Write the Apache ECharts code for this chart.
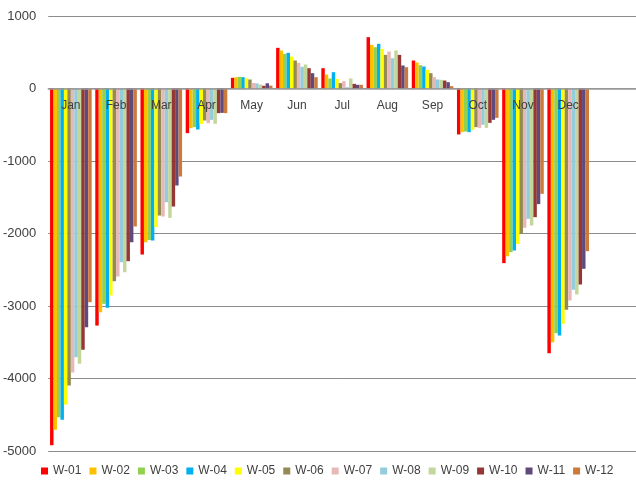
<!DOCTYPE html>
<html>
<head>
<meta charset="utf-8">
<script src="https://cdn.jsdelivr.net/npm/echarts@6/dist/echarts.min.js"></script>
<style>
html,body{margin:0;padding:0;background:#fff;}
#chart{width:636px;height:490px;}
</style>
</head>
<body>
<div id="chart"></div>
<script>
const months = ['Jan','Feb','Mar','Apr','May','Jun','Jul','Aug','Sep','Oct','Nov','Dec'];
const seriesNames = ['W-01','W-02','W-03','W-04','W-05','W-06','W-07','W-08','W-09','W-10','W-11','W-12'];
const colors = ['#FF0000','#FFC000','#92D050','#00B0F0','#FFFF00','#948A54','#E6B9B8','#93CDDD','#C3D69B','#953735','#604A7B','#CC7A3A'];
const yTicks = [1000, 0, -1000, -2000, -3000, -4000, -5000];

// values per series, Jan..Dec
const W01 = [-4920, -3270, -2290, -616, 147, 561, 280, 708, 386, -634, -2409, -3651];
const W02 = [-4708, -3085, -2120, -547, 156, 524, 193, 602, 359, -602, -2313, -3499];
const W03 = [-4533, -2970, -2090, -533, 161, 478, 138, 570, 322, -593, -2257, -3375];
const W04 = [-4570, -3025, -2097, -566, 156, 492, 225, 616, 303, -602, -2234, -3407];
const W05 = [-4359, -2855, -1913, -487, 142, 441, 133, 547, 258, -570, -2143, -3246];
const W06 = [-4097, -2657, -1752, -441, 124, 386, 74, 464, 211, -533, -2005, -3053];
const W07 = [-3917, -2593, -1766, -478, 76, 354, 101, 510, 156, -543, -1922, -2924];
const W08 = [-3706, -2396, -1568, -432, 70, 299, 18, 418, 124, -501, -1798, -2777];
const W09 = [-3798, -2533, -1784, -487, 55, 331, 138, 524, 120, -543, -1890, -2841];
const W10 = [-3604, -2382, -1628, -340, 38, 280, 64, 464, 110, -474, -1775, -2703];
const W11 = [-3292, -2120, -1338, -336, 72, 211, 51, 317, 87, -432, -1595, -2487];
const W12 = [-2947, -1903, -1214, -340, 40, 156, 51, 294, 32, -405, -1453, -2244];
const allValues = [W01, W02, W03, W04, W05, W06, W07, W08, W09, W10, W11, W12];

const chart = echarts.init(document.getElementById('chart'), null, {renderer: 'canvas'});
const font = 'Liberation Sans';
const gridTop = 16, gridBottom = 39, H = 490;
const plotH = H - gridTop - gridBottom;
const yMin = yTicks[yTicks.length - 1], yMax = yTicks[0];
// shift the category axis (line + labels) up to the zero line
const zeroOffset = -plotH * (0 - yMin) / (yMax - yMin);
chart.setOption({
  animation: false,
  color: colors,
  grid: {left: 47, right: 0, top: gridTop, bottom: gridBottom, containLabel: false},
  legend: {
    data: seriesNames,
    bottom: 8,
    left: 36,
    icon: 'rect',
    itemWidth: 7,
    itemHeight: 7,
    itemGap: 8,
    textStyle: {fontFamily: font, fontSize: 12, color: '#404040'}
  },
  xAxis: {
    type: 'category',
    data: months,
    max: 12,
    boundaryGap: true,
    offset: zeroOffset,
    z: 10,
    axisLine: {onZero: false, lineStyle: {color: '#9a9a9a', width: 1.5}},
    axisTick: {show: false},
    axisLabel: {fontFamily: font, fontSize: 12, color: '#404040', margin: 11, interval: 0}
  },
  yAxis: {
    type: 'value',
    min: yMin,
    max: yMax,
    interval: 1000,
    axisLine: {show: false},
    axisTick: {show: false},
    splitLine: {lineStyle: {color: '#8c8c8c', width: 1}},
    axisLabel: {fontFamily: font, fontSize: 13, color: '#404040', margin: 12, formatter: v => String(v)}
  },
  series: seriesNames.map((name, i) => ({
    name: name,
    type: 'bar',
    data: allValues[i],
    barGap: '0%',
    barCategoryGap: '8%',
    z: 1,
    itemStyle: {color: colors[i]}
  }))
});
</script>
</body>
</html>
